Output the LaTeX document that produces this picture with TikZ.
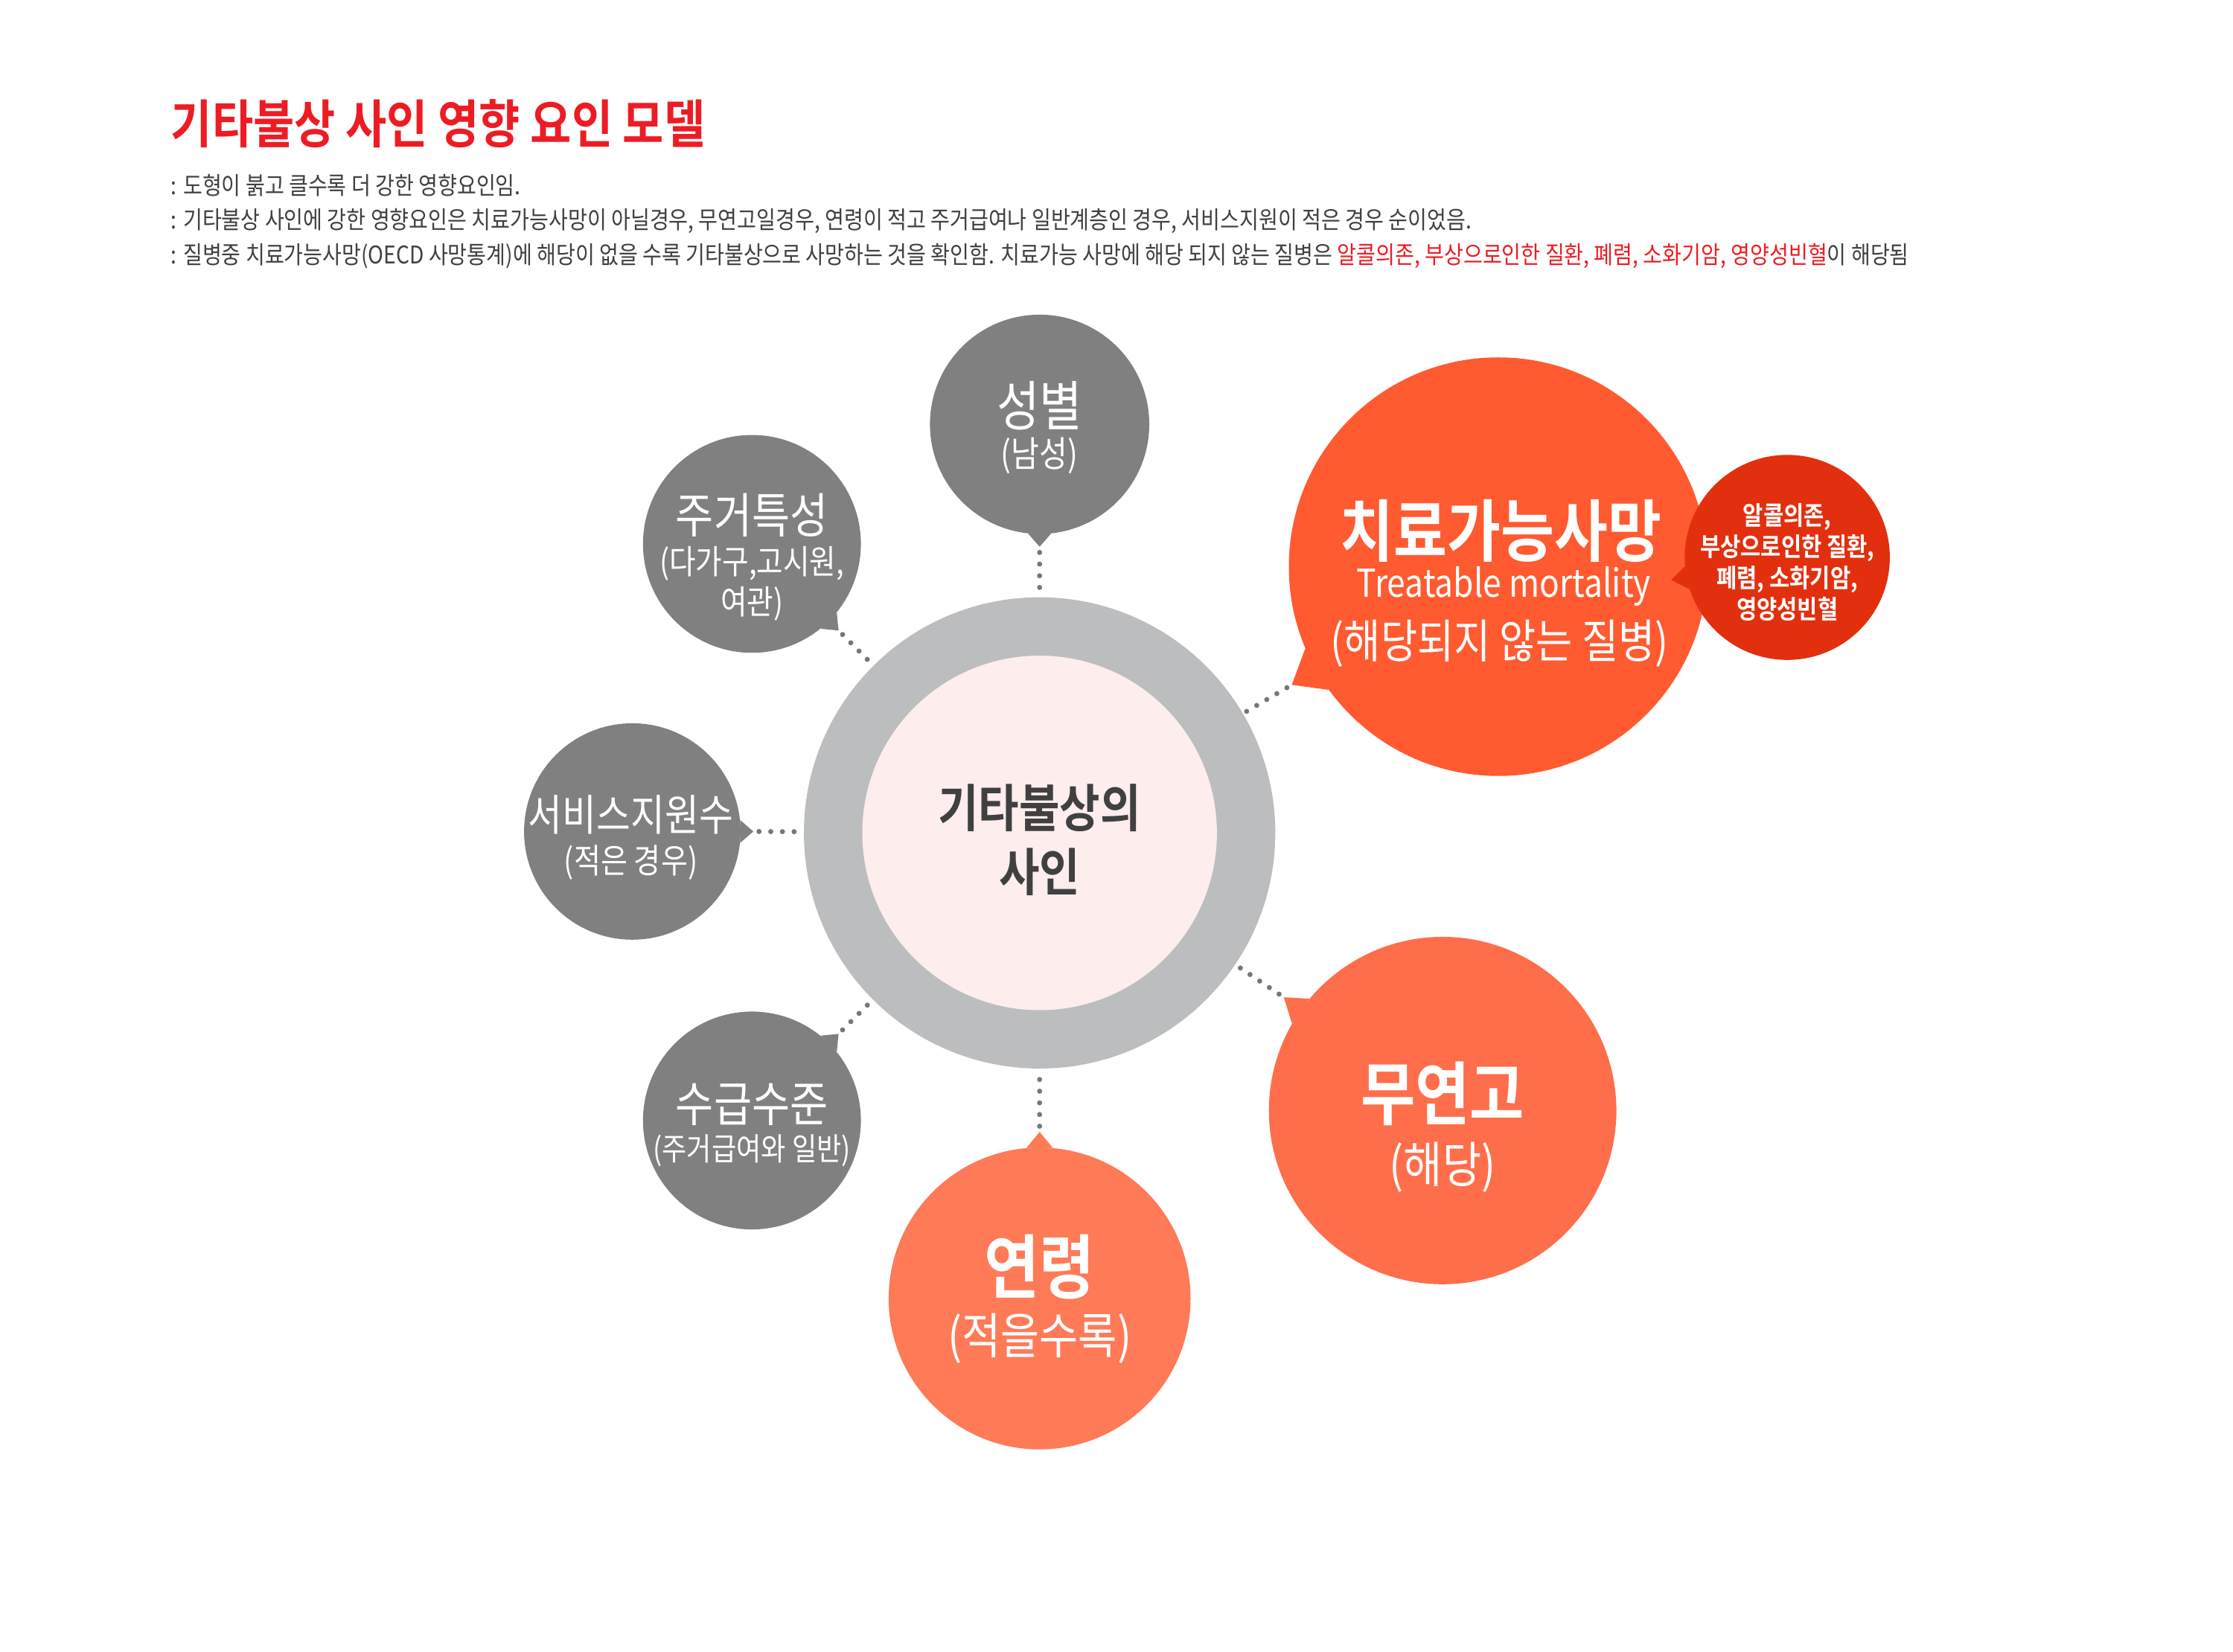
\documentclass[tikz,border=0pt]{standalone}
\usepackage{fontspec}
\setmainfont{Noto Sans CJK KR}[FakeStretch=0.86,BoldFont=* Bold]
\usetikzlibrary{calc}
\definecolor{titred}{HTML}{ED1C24}
\definecolor{txtgray}{HTML}{404040}
\definecolor{bubgray}{HTML}{808080}
\definecolor{ringgray}{HTML}{BCBDBF}
\definecolor{corepink}{HTML}{FDEDED}
\definecolor{treatred}{HTML}{FF5A30}
\definecolor{deepred}{HTML}{E2300F}
\definecolor{norel}{HTML}{FF6E4B}
\definecolor{ageor}{HTML}{FF7A57}
\definecolor{dotgray}{HTML}{777777}
\newcommand{\fs}[1]{\fontsize{#1}{1.2\dimexpr#1pt\relax}\selectfont}
\begin{document}
\begin{tikzpicture}[x=1pt, y=1pt,
  bub/.style={circle, inner sep=0pt, minimum size=#1},
  wt/.style={text=white, inner sep=0pt, align=center},
  note/.style={anchor=west, inner sep=0pt, text=txtgray, font=\fs{17.1}},
  dotl/.style={dotgray, line width=3.6pt, line cap=round, dash pattern=on 0pt off 8.2pt, shorten <=4pt, shorten >=2pt}]
\useasboundingbox (0,0) rectangle (1568,-1160);
% title and notes
\node[anchor=west, inner sep=0pt, text=titred, font=\bfseries\fs{36.5}] (title) at (120,-87) {기타불상 사인 영향 요인 모델};
\node[note] (n1) at (120,-130) {: 도형이 붉고 클수록 더 강한 영향요인임.};
\node[note] (n2) at (120,-155) {: 기타불상 사인에 강한 영향요인은 치료가능사망이 아닐경우, 무연고일경우, 연령이 적고 주거급여나 일반계층인 경우, 서비스지원이 적은 경우 순이었음.};
\node[note] (n3) at (120,-180) {: 질병중 치료가능사망(OECD 사망통계)에 해당이 없을 수록 기타불상으로 사망하는 것을 확인함. 치료가능 사망에 해당 되지 않는 질병은 {\color{titred}알콜의존, 부상으로인한 질환, 폐렴, 소화기암, 영양성빈혈}이 해당됨};
% centre
\node[bub=331pt, fill=ringgray] (ring) at (730,-585) {};
\node[bub=249pt, fill=corepink] (core) at (730,-585) {};
% bubbles
\node[bub=154pt, fill=bubgray] (sex) at (730,-298) {};
\node[bub=153pt, fill=bubgray] (house) at (528,-382) {};
\node[bub=152pt, fill=bubgray] (serv) at (444,-584) {};
\node[bub=153pt, fill=bubgray] (bene) at (528,-787) {};
\node[bub=212pt, fill=ageor] (age) at (730,-912) {};
\node[bub=244pt, fill=norel] (kin) at (1013,-780) {};
\node[bub=294pt, fill=treatred] (treat) at (1052,-398) {};
\fill[bubgray] (sex.-84) -- ($(sex.center)+(-90:86)$) coordinate (tsex) -- (sex.-96) -- cycle;
\fill[bubgray] (house.-39) -- ($(house.center)+(-45:86)$) coordinate (thouse) -- (house.-51) -- cycle;
\fill[bubgray] (serv.6) -- ($(serv.center)+(0:85)$) coordinate (tserv) -- (serv.-6) -- cycle;
\fill[bubgray] (bene.39) -- ($(bene.center)+(45:86)$) coordinate (tbene) -- (bene.51) -- cycle;
\fill[ageor] (age.85) -- ($(age.center)+(90:117)$) coordinate (tage) -- (age.95) -- cycle;
\fill[norel] (kin.140) -- ($(kin.center)+(144.5:137)$) coordinate (tkin) -- (kin.150) -- cycle;
\fill[treatred] (treat.203) -- ($(treat.center)+(209.8:167)$) coordinate (ttreat) -- (treat.216) -- cycle;
\node[bub=144pt, fill=deepred] (dis) at (1255,-391.5) {};
\fill[deepred] (dis.185) -- ($(dis.center)+(191:83)$) coordinate (tdis) -- (dis.198) -- cycle;
% dotted links
\draw[dotl] (tsex) -- (ring);
\draw[dotl] (thouse) -- (ring);
\draw[dotl] (tserv) -- (ring);
\draw[dotl] (tbene) -- (ring);
\draw[dotl] (tage) -- (ring);
\draw[dotl] (tkin) -- (ring);
\draw[dotl] (ttreat) -- (ring);
% labels
\node[inner sep=0pt, text=txtgray, align=center, font=\bfseries\fontsize{36}{45}\selectfont] (coret) at (730,-590) {기타불상의\\사인};
\node[wt, font=\fs{38}] (sexa) at (730,-285) {성별};
\node[wt, font=\fs{25}] (sexb) at (730,-320) {(남성)};
\node[wt, font=\fs{33.8}] (housea) at (528,-362) {주거특성};
\node[wt, font=\fontsize{23.5}{28}\selectfont] (houseb) at (528,-410) {(다가구,고시원,\\여관)};
\node[wt, font=\fs{30.3}] (serva) at (443,-572) {서비스지원수};
\node[wt, font=\fs{23.8}] (servb) at (443,-606) {(적은 경우)};
\node[wt, font=\fs{33.8}] (benea) at (528,-776) {수급수준};
\node[wt, font=\fs{22}] (beneb) at (528,-808) {(주거급여와 일반)};
\node[wt, font=\bfseries\fs{49}] (agea) at (730,-890) {연령};
\node[wt, font=\fs{34.5}] (ageb) at (730,-940) {(적을수록)};
\node[wt, font=\bfseries\fs{48.5}] (kina) at (1013,-768) {무연고};
\node[wt, font=\fs{34.5}] (kinb) at (1013,-820) {(해당)};
\node[wt, font=\bfseries\fs{47.5}] (treata) at (1054,-373) {치료가능사망};
\node[wt, font=\fs{27}] (treatb) at (1056,-412) {Treatable mortality};
\node[wt, font=\fs{32.5}] (treatc) at (1053,-452) {(해당되지 않는 질병)};
\node[wt, font=\bfseries\fontsize{18}{22}\selectfont] (dist) at (1255,-395) {알콜의존,\\부상으로인한 질환,\\폐렴, 소화기암,\\영양성빈혈};
\end{tikzpicture}
\end{document}
